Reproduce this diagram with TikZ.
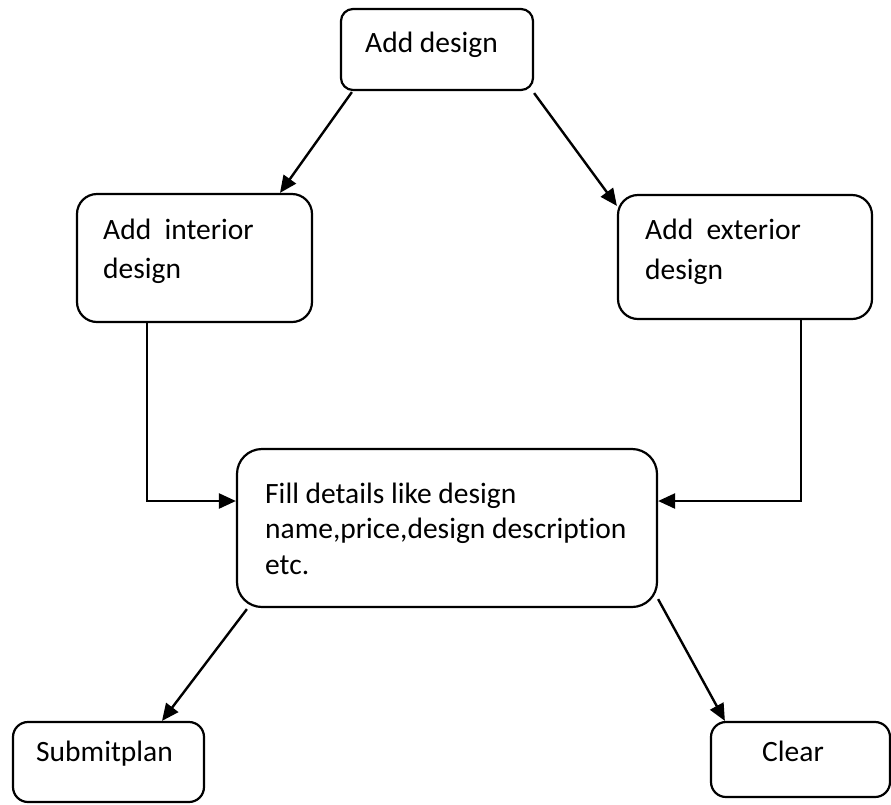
\documentclass[tikz,border=0pt]{standalone}
\usepackage{fontspec}
\setmainfont[Ligatures=NoCommon]{Carlito}
\usetikzlibrary{arrows.meta,calc}
\begin{document}
\begin{tikzpicture}[x=1pt,y=-1pt,
  box/.style={draw, line width=2.2pt, inner sep=0pt},
  lbl/.style={anchor=base west, inner sep=0pt, font=\fontsize{29.5}{35}\selectfont},
  arr/.style={line width=2.4pt, -{Triangle[length=17pt,width=15pt]}}]
\useasboundingbox (0,0) rectangle (891,804);
% boxes
\node[box, rounded corners=12pt, minimum width=192pt, minimum height=81pt] (add) at (437,49.5) {};
\node[box, rounded corners=20pt, minimum width=235pt, minimum height=128pt] (interior) at (194.5,258) {};
\node[box, rounded corners=20pt, minimum width=254pt, minimum height=124pt] (ext) at (745,257) {};
\node[box, rounded corners=25pt, minimum width=420pt, minimum height=158pt] (fill) at (447,528) {};
\node[box, rounded corners=15pt, minimum width=191pt, minimum height=80pt] (submit) at (108.5,762) {};
\node[box, rounded corners=15pt, minimum width=179pt, minimum height=75pt] (clear) at (800.5,759.5) {};
% texts
\node[lbl] (t1) at (365,52) {Add design};
\node[lbl] (t2) at (103,239) {Add~~interior};
\node[lbl] (t3) at (103,278) {design};
\node[lbl] (t4) at (645,239) {Add~~exterior};
\node[lbl] (t5) at (645,279) {design};
\node[lbl] (t6) at (265,503) {Fill details like design};
\node[lbl] (t7) at (265,538) {name,price,design description};
\node[lbl] (t8) at (265,574) {etc.};
\node[lbl] (t9) at (36,761) {Submitplan};
\node[lbl] (t10) at (762,761) {Clear};
% connectors
\draw[arr] ($(add.south west)+(12,1)$) -- ($(interior.north)+(85.5,0)$);
\draw[arr] ($(add.south east)+(0,2)$) -- ($(ext.north west)+(0,12)$);
\draw[arr] ($(interior.south)+(-47.5,0)$) |- ($(fill.west)+(0,-27)$);
\draw[arr] ($(ext.south)+(56,0)$) |- ($(fill.east)+(0,-27)$);
\draw[arr] ($(fill.south west)+(11,1)$) -- ($(submit.north)+(53.5,0)$);
\draw[arr] ($(fill.south east)+(0,-9)$) -- ($(clear.north west)+(15,0)$);
\end{tikzpicture}
\end{document}
